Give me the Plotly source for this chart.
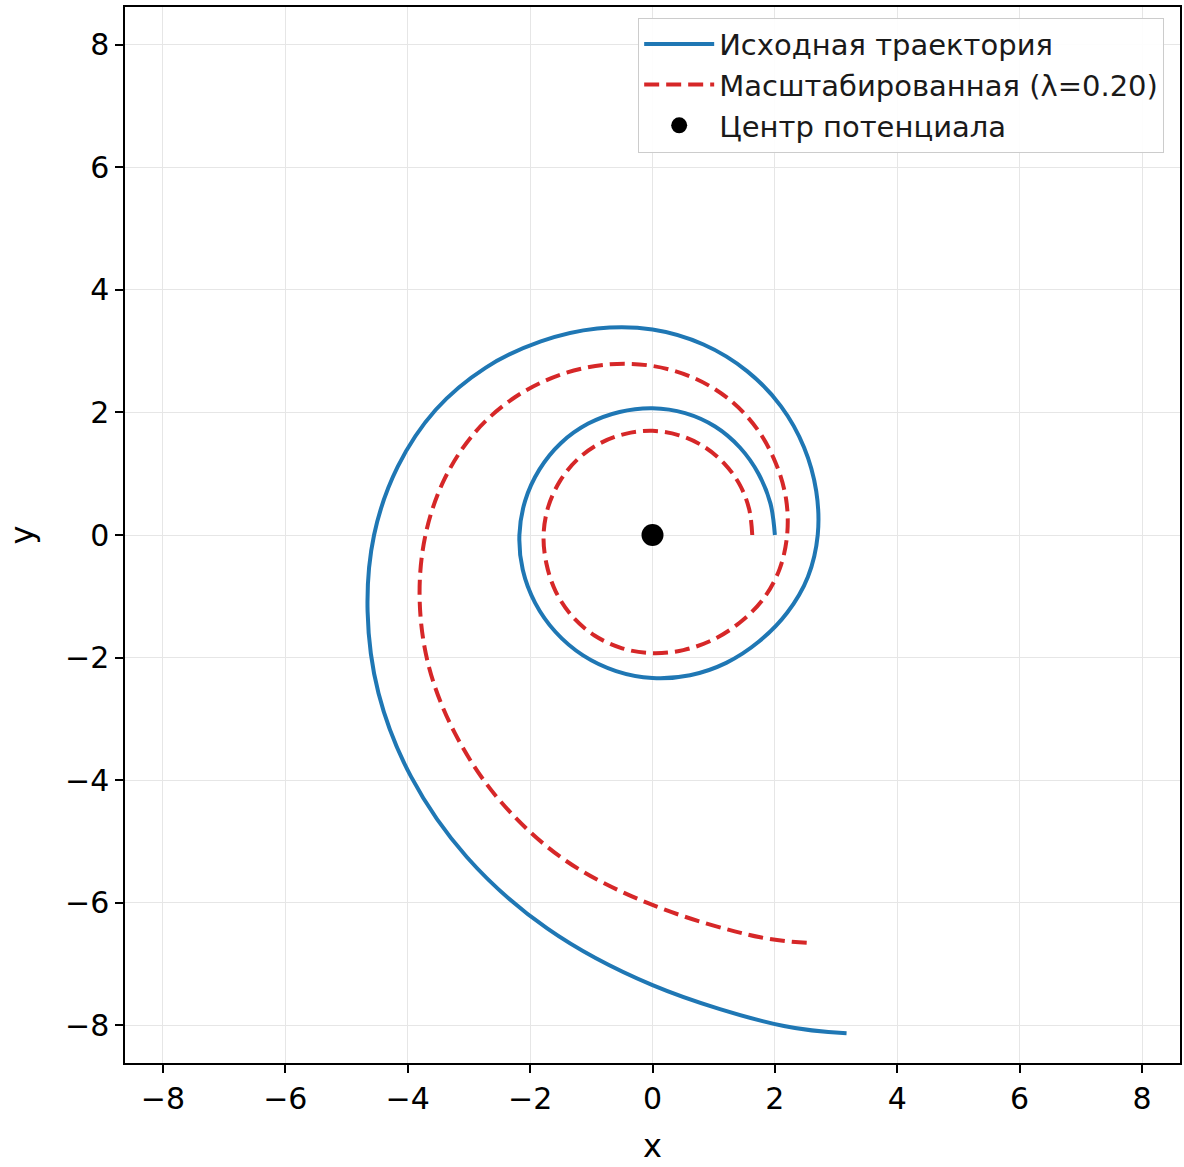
import numpy as np
import plotly.graph_objects as go

# Trajectories in polar form: angle (degrees, counter-clockwise
# from +x, accumulated over turns) and distance from the potential centre.
orig_theta_deg = [0, 15, 30, 45, 60, 75, 90, 105, 120, 135, 150, 165, 180, 195, 210, 225, 240, 255,
                  270, 285, 300, 315, 330, 345, 360, 375, 390, 405, 420, 435, 450, 465, 480, 495,
                  510, 525, 540, 555, 570, 585, 600, 615, 630, 645, 651.3]
orig_r = [2.00, 1.995, 2.00, 2.02, 2.045, 2.06, 2.07, 2.08, 2.10, 2.12, 2.135, 2.155, 2.175, 2.195,
          2.215, 2.24, 2.27, 2.30, 2.335, 2.37, 2.41, 2.46, 2.54, 2.63, 2.70, 2.77, 2.86, 2.97,
          3.09, 3.22, 3.355, 3.49, 3.65, 3.86, 4.09, 4.31, 4.55, 4.82, 5.17, 5.58, 6.07, 6.65,
          7.35, 8.30, 8.73]

scaled_theta_deg = [0, 15, 30, 45, 60, 75, 90, 105, 120, 135, 150, 165, 180, 195, 210, 225, 240, 255,
                    270, 285, 300, 315, 330, 345, 360, 375, 390, 405, 420, 435, 450, 465, 480, 495,
                    510, 525, 540, 555, 570, 585, 600, 615, 630, 645, 651.1]
scaled_r = [1.63, 1.635, 1.645, 1.655, 1.67, 1.685, 1.70, 1.71, 1.725, 1.74, 1.75, 1.765, 1.78, 1.795,
            1.83, 1.865, 1.895, 1.915, 1.93, 1.945, 1.975, 2.02, 2.09, 2.15, 2.20, 2.26, 2.33, 2.43,
            2.54, 2.65, 2.76, 2.88, 3.02, 3.18, 3.35, 3.52, 3.71, 3.94, 4.23, 4.57, 5.00, 5.50,
            6.04, 6.80, 7.14]

center_x = [0.0]
center_y = [0.0]

tick_vals = [-8, -6, -4, -2, 0, 2, 4, 6, 8]

orig_t = np.radians(orig_theta_deg)
orig_x = np.array(orig_r) * np.cos(orig_t)
orig_y = np.array(orig_r) * np.sin(orig_t)
sc_t = np.radians(scaled_theta_deg)
scaled_x = np.array(scaled_r) * np.cos(sc_t)
scaled_y = np.array(scaled_r) * np.sin(sc_t)

font_family = "DejaVu Sans"

fig = go.Figure()
fig.add_trace(go.Scatter(x=orig_x, y=orig_y, mode="lines", name="Исходная траектория",
                         line=dict(color="#1f77b4", width=4, shape="spline", smoothing=1.0)))
fig.add_trace(go.Scatter(x=scaled_x, y=scaled_y, mode="lines", name="Масштабированная (λ=0.20)",
                         line=dict(color="#d62728", width=4, dash="15px,7px", shape="spline", smoothing=1.0)))
fig.add_trace(go.Scatter(x=center_x, y=center_y, mode="markers", name="Центр потенциала",
                         marker=dict(color="black", size=22)))

axis_common = dict(
    range=[-8.62, 8.62], tickvals=tick_vals, showgrid=True, gridcolor="#e6e6e6", gridwidth=1,
    zeroline=False, showline=True, linecolor="black", linewidth=1.5, mirror=True,
    ticks="outside", ticklen=8, tickwidth=2, tickcolor="black",
    tickfont=dict(family=font_family, size=30, color="black"),
)
fig.update_xaxes(**axis_common, title=dict(text="x", font=dict(family=font_family, size=32, color="black"), standoff=20))
fig.update_yaxes(**axis_common, title=dict(text="y", font=dict(family=font_family, size=32, color="black"), standoff=22))

fig.update_layout(
    width=1184, height=1167,
    margin=dict(l=125, r=2, t=7, b=104),
    plot_bgcolor="white", paper_bgcolor="white",
    font=dict(family=font_family, color="black"),
    legend=dict(x=0.985, y=0.99, xanchor="right", yanchor="top",
                bgcolor="rgba(255,255,255,0.9)", bordercolor="#cccccc", borderwidth=1,
                font=dict(family=font_family, size=29, color="#1a1a1a"),
                itemwidth=70),
    showlegend=True,
)

fig.write_html("out.html", config={"displayModeBar": False},
               post_script="document.body.style.margin='0';document.body.style.overflow='hidden';")
